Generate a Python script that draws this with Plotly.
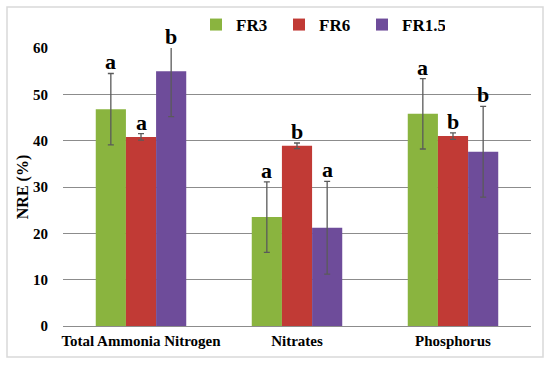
import plotly.graph_objects as go

categories = ["Total Ammonia Nitrogen", "Nitrates", "Phosphorus"]
series_names = ["FR3", "FR6", "FR1.5"]
fr3 = [46.8, 23.5, 45.8]
fr6 = [40.8, 38.9, 41.0]
fr15 = [55.0, 21.2, 37.6]
fr3_err = [7.7, 7.6, 7.6]
fr6_err = [0.7, 0.6, 0.7]
fr15_err = [9.8, 10.0, 9.8]
fr3_letters = ["a", "a", "a"]
fr6_letters = ["a", "b", "b"]
fr15_letters = ["b", "a", "b"]
y_ticks = [0, 10, 20, 30, 40, 50, 60]
y_max = 60

colors = ["#8ab43f", "#c13a35", "#6e4c9a"]
values = [fr3, fr6, fr15]
errors = [fr3_err, fr6_err, fr15_err]
letters = [fr3_letters, fr6_letters, fr15_letters]

W, H = 550, 365
ml, mr, mt, mb = 63, 19, 48, 39
bargap = 0.42

ff = "Liberation Serif"

fig = go.Figure()
for name, vals, errs, col in zip(series_names, values, errors, colors):
    fig.add_trace(go.Bar(
        name=name, x=categories, y=vals,
        marker=dict(color=col, line=dict(width=0)),
        error_y=dict(type="data", array=errs, visible=True,
                     color="#5a5a5a", thickness=1.3, width=3),
    ))

# significance letters above the (axis-clipped) error bars
nser = len(series_names)
bw = (1 - bargap) / nser
annotations = []
for si in range(nser):
    off = (si - (nser - 1) / 2) * bw
    for ci in range(len(categories)):
        top = min(values[si][ci] + errors[si][ci], y_max)
        annotations.append(dict(
            x=ci + off, y=top / y_max,
            xref="x", yref="y domain", text=letters[si][ci],
            showarrow=False, yanchor="bottom", xanchor="center", yshift=-3,
            font=dict(family=ff, size=22, color="#000000", weight="bold"),
        ))

pw = W - ml - mr
ph = H - mt - mb
fig.update_layout(
    width=W, height=H,
    margin=dict(l=ml, r=mr, t=mt, b=mb, pad=0, autoexpand=False),
    paper_bgcolor="white", plot_bgcolor="white",
    barmode="group", bargap=bargap, bargroupgap=0,
    font=dict(family=ff, color="#000000", weight="bold"),
    showlegend=True,
    legend=dict(orientation="h", x=(196 - ml) / pw, y=1 + (mt - 25) / ph,
                xanchor="left", yanchor="middle",
                font=dict(family=ff, size=17, color="#000000", weight="bold"),
                entrywidth=38, entrywidthmode="pixels",
                itemwidth=30, bgcolor="rgba(0,0,0,0)"),
    annotations=annotations,
    shapes=[dict(type="rect", xref="paper", yref="paper",
                 x0=(7 - ml) / pw, x1=(543 - ml) / pw,
                 y0=-(357 - (H - mb)) / ph, y1=1 + (mt - 7) / ph,
                 line=dict(color="#d9d9d9", width=1.5), layer="below")],
)
fig.update_xaxes(
    type="category", showgrid=False, showline=True, linecolor="#8c8c8c",
    linewidth=1, ticks="outside", ticklen=1, tickcolor="rgba(0,0,0,0)",
    tickfont=dict(family=ff, size=15, weight="bold"), automargin=False,
)
fig.update_yaxes(
    range=[0, y_max], tickvals=y_ticks, showgrid=True, gridcolor="#8c8c8c",
    gridwidth=1, zeroline=False, showline=False,
    ticks="outside", ticklen=11, tickcolor="rgba(0,0,0,0)",
    tickfont=dict(family=ff, size=15, weight="bold"), automargin=False,
    title=dict(text="NRE (%)", font=dict(family=ff, size=16, weight="bold"), standoff=0),
)

fig.write_html("out.html", config={"displayModeBar": False},
               post_script="document.body.style.margin='0';document.body.style.padding='0';")
